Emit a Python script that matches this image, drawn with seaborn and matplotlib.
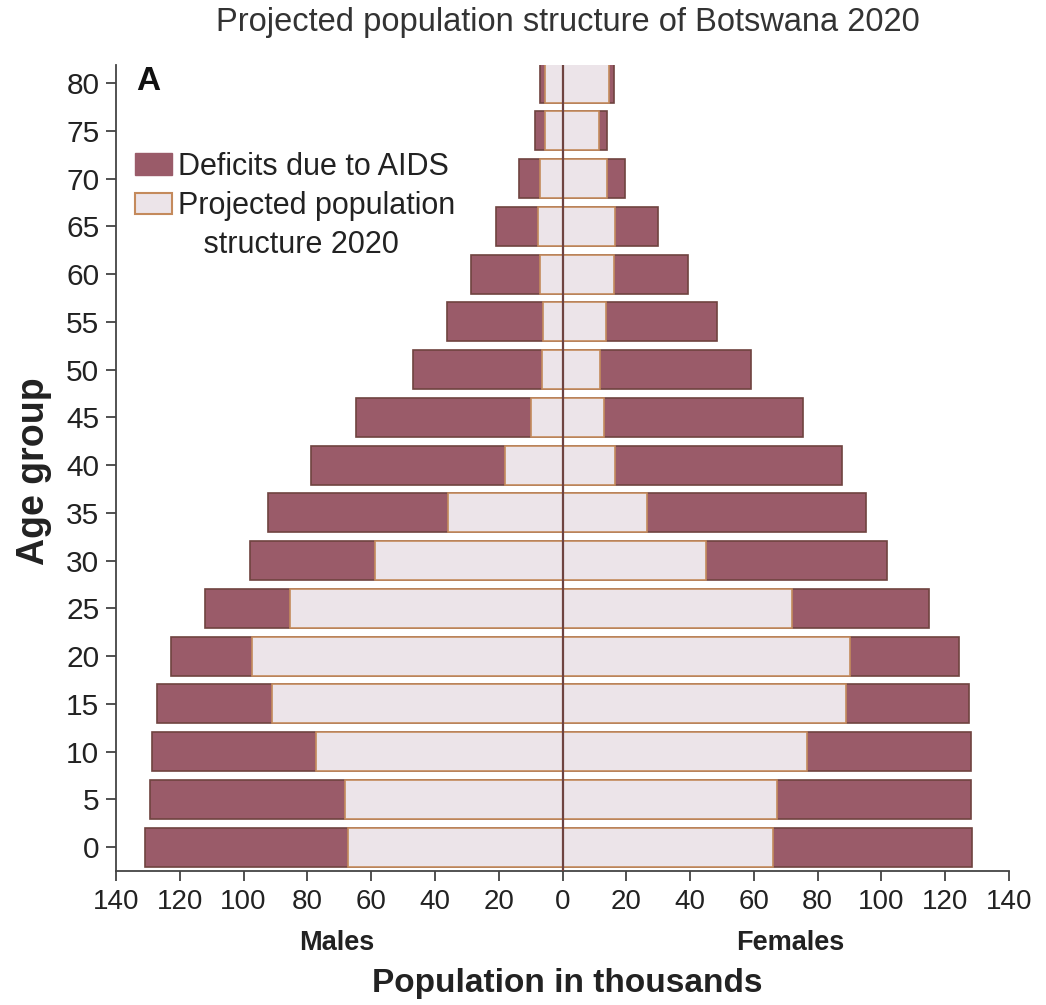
import matplotlib

matplotlib.use("Agg")
import matplotlib.pyplot as plt
import numpy as np
import pandas as pd
import seaborn as sns
from matplotlib.patches import Patch

# age group lower bounds
ages = [0, 5, 10, 15, 20, 25, 30, 35, 40, 45, 50, 55, 60, 65, 70, 75, 80]

# thousands
male_total = [130.8, 129.3, 128.7, 127.1, 122.7, 112.2, 98.1, 92.3, 78.8, 64.7,
              46.9, 36.3, 28.6, 21.0, 13.7, 8.5, 7.0]
male_projected = [67.3, 68.3, 77.4, 91.0, 97.3, 85.3, 58.8, 36.0, 17.9, 9.8,
                  6.4, 6.0, 7.2, 7.7, 7.0, 5.6, 5.6]
female_total = [128.4, 128.1, 128.1, 127.5, 124.4, 115.0, 101.8, 95.2, 87.7, 75.3,
                59.2, 48.4, 39.3, 30.0, 19.7, 14.0, 16.1]
female_projected = [65.9, 67.4, 76.7, 88.9, 90.3, 72.0, 45.0, 26.5, 16.6, 12.9,
                    11.8, 13.5, 16.0, 16.5, 13.9, 11.4, 14.5]

xticks = list(range(-140, 141, 20))
xtick_labels = [str(abs(v)) for v in xticks]

DEFICIT = "#9a5b69"
PROJECTED = "#ece4e9"
DARK_EDGE = "#6f4340"
TAN_EDGE = "#c48a5c"
INK = "#222222"

sns.set_style("ticks")
plt.rcParams["font.family"] = ["Liberation Sans", "DejaVu Sans"]

frame = pd.DataFrame(
    {
        "age": ages,
        "male_total": -np.array(male_total),
        "male_projected": -np.array(male_projected),
        "female_total": female_total,
        "female_projected": female_projected,
    }
)

fig = plt.figure(figsize=(10.46, 10.05), dpi=100)
ax = fig.add_axes([116 / 1046, 1 - 871 / 1005, 893 / 1046, 806 / 1005])

for column, fill, edge in [
    ("male_total", DEFICIT, DARK_EDGE),
    ("female_total", DEFICIT, DARK_EDGE),
    ("male_projected", PROJECTED, TAN_EDGE),
    ("female_projected", PROJECTED, TAN_EDGE),
]:
    sns.barplot(
        data=frame,
        x=column,
        y="age",
        orient="y",
        native_scale=True,
        color=fill,
        saturation=1,
        edgecolor=edge,
        linewidth=1.2,
        width=0.82,
        errorbar=None,
        ax=ax,
    )

ylim = (-2.5, 81.9)
# dark centre line where the two sides meet
ax.axvline(0, ymin=0, ymax=1, color=DARK_EDGE, linewidth=1.6, zorder=5)

ax.set_xlim(-140, 140)
ax.set_ylim(*ylim)
ax.set_xticks(xticks, xtick_labels)
ax.set_yticks(ages)
ax.tick_params(axis="x", labelsize=20, length=7, width=1.2, pad=6, colors="#333333", labelcolor=INK)
ax.tick_params(axis="y", labelsize=21.5, length=7, width=1.2, pad=5, colors="#333333", labelcolor=INK)
sns.despine(ax=ax)
for side in ["left", "bottom"]:
    ax.spines[side].set_linewidth(1.3)
    ax.spines[side].set_color("#444444")

ax.set_xlabel("")
ax.set_ylabel("Age group", fontsize=27, fontweight="bold", color=INK)
ax.yaxis.set_label_coords(-0.072, 0.496)

fig.suptitle("Projected population structure of Botswana 2020", x=568 / 1046, y=1 - 7 / 1005,
             va="top", fontsize=23.5, color="#333333")
fig.text(136 / 1046, 1 - 90 / 1005, "A", fontsize=24, fontweight="bold", color="#111111")
fig.text(337 / 1046, 1 - 943 / 1005, "Males", ha="center", va="center", fontsize=19.5,
         fontweight="bold", color=INK)
fig.text(790 / 1046, 1 - 943 / 1005, "Females", ha="center", va="center", fontsize=19.5,
         fontweight="bold", color=INK)
fig.text(567 / 1046, 1 - 983 / 1005, "Population in thousands", ha="center", va="center",
         fontsize=24, fontweight="bold", color=INK)

handles = [
    Patch(facecolor=DEFICIT, edgecolor=DEFICIT, linewidth=1),
    Patch(facecolor=PROJECTED, edgecolor=TAN_EDGE, linewidth=1.5),
    Patch(facecolor="none", edgecolor="none"),
]
legend = ax.legend(
    handles,
    ["Deficits due to AIDS", "Projected population", "   structure 2020"],
    loc="upper left",
    bbox_to_anchor=(135 / 1046, 1 - 152 / 1005),
    bbox_transform=fig.transFigure,
    frameon=False,
    fontsize=22,
    handlelength=1.2,
    handleheight=0.72,
    handletextpad=0.2,
    labelspacing=0.3,
    borderpad=0,
    borderaxespad=0,
)
for text in legend.get_texts():
    text.set_color(INK)

fig.savefig("out.png", dpi=100)
